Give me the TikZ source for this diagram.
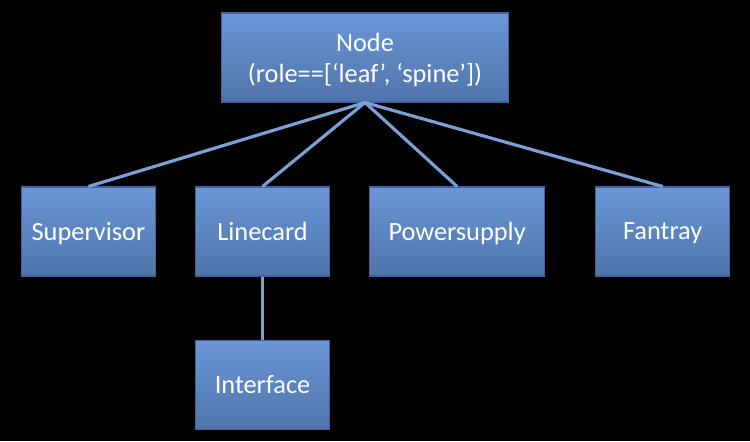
\documentclass[tikz,border=0pt]{standalone}
\usepackage{fontspec}
\setmainfont{Carlito}
\usetikzlibrary{positioning}
\definecolor{boxtop}{RGB}{106,150,215}
\definecolor{boxbot}{RGB}{79,116,170}
\definecolor{boxline}{RGB}{66,100,152}
\definecolor{wire}{RGB}{122,160,215}

\begin{document}
\begin{tikzpicture}[every node/.style={draw=boxline, line width=0.6pt, top color=boxtop, bottom color=boxbot,
    text=white, font=\fontsize{15}{17.5}\selectfont, minimum height=1.78cm, minimum width=2.68cm, align=center,
    inner sep=0pt, text depth=-0.08cm},
  wires/.style={draw=wire, line width=1.8pt}]
  \fill[black] (0,0) rectangle (15,-8.82);
  \useasboundingbox (0,0) rectangle (15,-8.82);

  \node [minimum width=5.74cm] (node) at (7.30,-1.15) {Node\\(role==[‘leaf’, ‘spine’])};

  \node (sup) at (1.77,-4.63) {Supervisor};
  \node [right=0.78cm of sup] (lc) {Linecard};
  \node [right=0.78cm of lc, minimum width=3.5cm] (ps) {Powersupply};
  \node [right=1.0cm of ps] (ft) {Fantray};

  \node [below=1.26cm of lc] (intf) {Interface};

  \draw [wires] (node.south) -- (sup.north);
  \draw [wires] (node.south) -- (lc.north);
  \draw [wires] (node.south) -- (ps.north);
  \draw [wires] (node.south) -- (ft.north);
  \draw [wires] (lc) -- (intf);

\end{tikzpicture}
\end{document}
